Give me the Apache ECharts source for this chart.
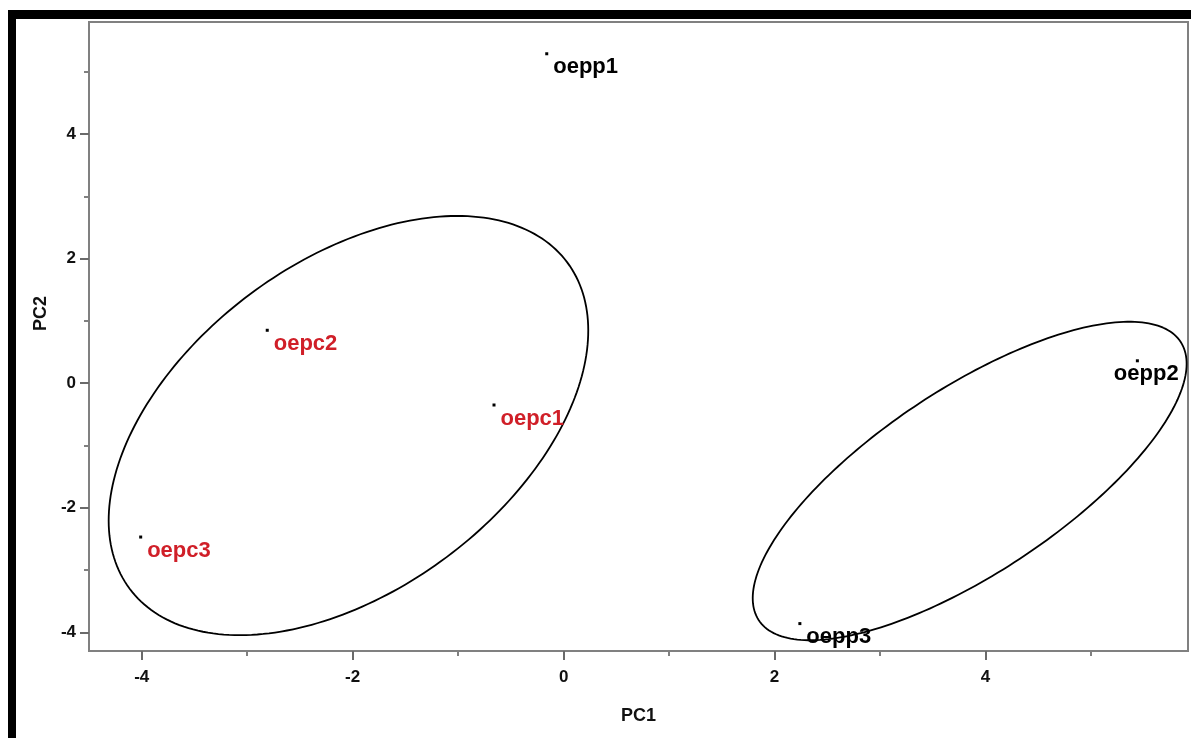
<!DOCTYPE html>
<html>
<head>
<meta charset="utf-8">
<title>PCA scores: PC1 vs PC2</title>
<script src="https://cdn.jsdelivr.net/npm/echarts@6/dist/echarts.min.js"></script>
<style>
  html, body { margin: 0; padding: 0; background: #ffffff; }
  #chart { width: 1191px; height: 738px; }
</style>
</head>
<body>
<div id="chart"></div>
<script>
// Sample scores on the first two principal components
const sampleNames = ['oepc1', 'oepc2', 'oepc3', 'oepp1', 'oepp2', 'oepp3'];
const pc1Scores   = [-0.66, -2.81, -4.01, -0.16, 5.44, 2.24];
const pc2Scores   = [-0.35, 0.85, -2.47, 5.29, 0.36, -3.86];
const sampleGroup = ['oepc', 'oepc', 'oepc', 'oepp', 'oepp', 'oepp'];

// Group ellipses (data units): centre, semi-axes, rotation of the major axis
const ellipseCenters = [[-2.04, -0.68], [3.85, -1.57]];
const ellipseAxes    = [[3.59, 1.90], [3.07, 1.16]];
const ellipseAngles  = [65.8, 53.3];

// Axis ticks
const majorTicks = [-4, -2, 0, 2, 4];
const minorTicksX = [-3, -1, 1, 3, 5];
const minorTicksY = [-3, -1, 1, 3, 5];

const groupColor = { oepc: '#d01f28', oepp: '#000000' };
// label placement next to each point (pixels from the marker)
const labelShift = { oepp2: [-22, 15] };
const defaultShift = [8, 15];

const fontFamily = '"Liberation Sans", Arial, sans-serif';
const axisGray = '#808080';

const points = sampleNames.map((n, i) => {
  const shift = labelShift[n] || defaultShift;
  return {
    name: n,
    value: [pc1Scores[i], pc2Scores[i]],
    label: {
      position: shift,
      color: groupColor[sampleGroup[i]]
    }
  };
});

const ellipseData = ellipseCenters.map((c, i) => [
  c[0], c[1], ellipseAxes[i][0], ellipseAxes[i][1], ellipseAngles[i]
]);

const xRange = { min: -4.5, max: 5.92 };
const yRange = { min: -4.3, max: 5.8 };

const chart = echarts.init(document.getElementById('chart'), null, { renderer: 'canvas' });

chart.setOption({
  backgroundColor: '#ffffff',
  animation: false,
  textStyle: { fontFamily: fontFamily },
  graphic: [
    { type: 'rect', left: 8, top: 10, shape: { width: 1183, height: 9 }, style: { fill: '#000' }, z: 100 },
    { type: 'rect', left: 8, top: 10, shape: { width: 8, height: 728 }, style: { fill: '#000' }, z: 100 }
  ],
  grid: {
    left: 89, right: 3, top: 22, bottom: 87,
    show: true,
    borderColor: axisGray,
    borderWidth: 2,
    backgroundColor: '#ffffff'
  },
  xAxis: [
    {
      type: 'value', min: xRange.min, max: xRange.max, position: 'bottom',
      name: 'PC1', nameLocation: 'middle', nameGap: 56,
      nameTextStyle: { fontSize: 18, fontWeight: 'bold', color: '#111', fontFamily: fontFamily },
      axisLine: { onZero: false, lineStyle: { color: axisGray, width: 2 } },
      axisTick: { show: true, length: 9, customValues: majorTicks, lineStyle: { color: '#6a6a6a', width: 2 } },
      axisLabel: { customValues: majorTicks, margin: 18, fontSize: 17, fontWeight: 'bold', color: '#111',
                   fontFamily: fontFamily },
      splitLine: { show: false }
    },
    {
      type: 'value', min: xRange.min, max: xRange.max, position: 'bottom',
      axisLine: { show: false, onZero: false },
      axisTick: { show: true, length: 5, customValues: minorTicksX, lineStyle: { color: axisGray, width: 2 } },
      axisLabel: { show: false },
      splitLine: { show: false }
    }
  ],
  yAxis: [
    {
      type: 'value', min: yRange.min, max: yRange.max, position: 'left',
      name: 'PC2', nameLocation: 'middle', nameGap: 34,
      nameTextStyle: { fontSize: 18, fontWeight: 'bold', color: '#111', fontFamily: fontFamily,
                       padding: [0, 0, 0, 46] },
      axisLine: { onZero: false, lineStyle: { color: axisGray, width: 2 } },
      axisTick: { show: true, length: 9, customValues: majorTicks, lineStyle: { color: '#6a6a6a', width: 2 } },
      axisLabel: { customValues: majorTicks, margin: 13, fontSize: 17, fontWeight: 'bold', color: '#111',
                   fontFamily: fontFamily },
      splitLine: { show: false }
    },
    {
      type: 'value', min: yRange.min, max: yRange.max, position: 'left',
      axisLine: { show: false, onZero: false },
      axisTick: { show: true, length: 5, customValues: minorTicksY, lineStyle: { color: axisGray, width: 2 } },
      axisLabel: { show: false },
      splitLine: { show: false }
    }
  ],
  series: [
    {
      type: 'custom',
      name: 'group ellipses',
      xAxisIndex: 0, yAxisIndex: 0,
      data: ellipseData,
      encode: { x: 0, y: 1 },
      silent: true,
      renderItem: function (params, api) {
        const cx = api.value(0), cy = api.value(1);
        const a = api.value(2), b = api.value(3);
        const th = api.value(4) * Math.PI / 180;
        const pts = [];
        const n = 240;
        for (let k = 0; k <= n; k++) {
          const t = k / n * 2 * Math.PI;
          const x = cx + a * Math.cos(th) * Math.cos(t) - b * Math.sin(th) * Math.sin(t);
          const y = cy + a * Math.sin(th) * Math.cos(t) + b * Math.cos(th) * Math.sin(t);
          pts.push(api.coord([x, y]));
        }
        return {
          type: 'polyline',
          shape: { points: pts },
          style: { fill: null, stroke: '#000', lineWidth: 1.8 }
        };
      }
    },
    {
      type: 'scatter',
      name: 'samples',
      xAxisIndex: 0, yAxisIndex: 0,
      symbol: 'rect',
      symbolSize: 3,
      itemStyle: { color: '#000', opacity: 1 },
      data: points,
      label: {
        show: true,
        formatter: '{b}',
        align: 'left',
        verticalAlign: 'middle',
        fontSize: 22,
        fontWeight: 'bold',
        fontFamily: fontFamily,
        opacity: 1
      },
      z: 5
    }
  ]
});
</script>
</body>
</html>
